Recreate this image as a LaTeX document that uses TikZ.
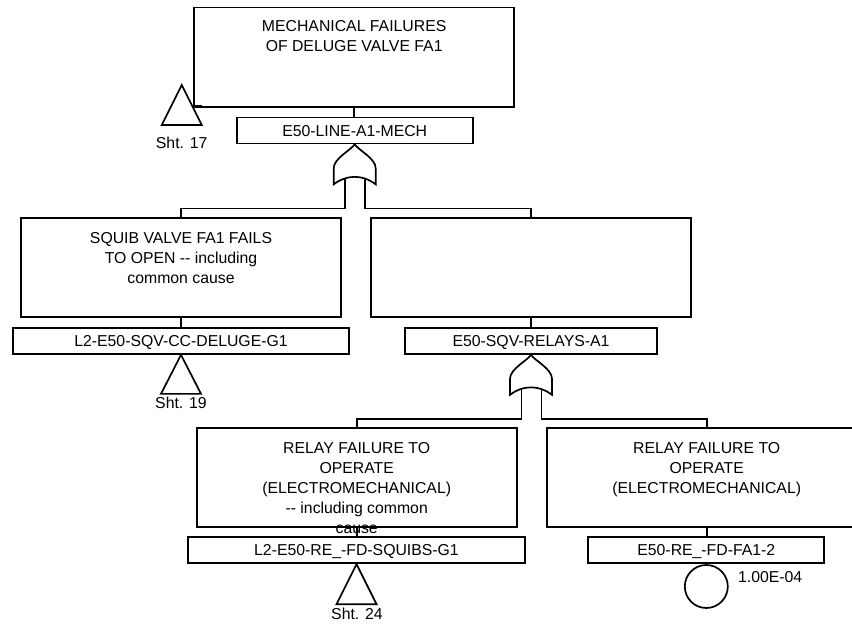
\documentclass[tikz,border=0pt]{standalone}
\usepackage{fontspec}
\newfontfamily\af{Liberation Sans}
\begin{document}
\begin{tikzpicture}[x=1pt,y=-1pt, line width=1.7pt,
  box/.style={draw, minimum width=320pt, minimum height=99.5pt, inner sep=0pt},
  lab/.style={draw, inner sep=0pt, minimum height=26pt, text height=11.3pt, text depth=0pt, font=\af\fontsize{15.8}{20}\selectfont},
  txt/.style={anchor=north, inner sep=0pt, align=center, font=\af\fontsize{15.8}{20}\selectfont},
  sht/.style={inner sep=0pt, text height=11.3pt, text depth=0pt, font=\af\fontsize{15.8}{20}\selectfont},
  orgate/.pic={
    \draw[fill=white] (0,0) .. controls (-4,6) and (-21,14) .. (-21,24) -- (-21,40)
      .. controls (-14,34.5) and (-6,32.5) .. (0,32.5)
      .. controls (6,32.5) and (14,34.5) .. (21,40) -- (21,24)
      .. controls (21,14) and (4,6) .. (0,0) -- cycle;
    \coordinate (-l) at (-9.5,33.5);
    \coordinate (-r) at (10.5,33.5);
    \coordinate (-lb) at (-9.5,64);
    \coordinate (-rb) at (10.5,64);
  }]
\clip (0,0) rectangle (852,626);

% top event
\node[box] (top) at (354.15,57.25) {};
\node[txt] (toptxt) at (354.15,20) {MECHANICAL FAILURES\\OF DELUGE VALVE FA1};
\node[lab, minimum width=236pt] (toplab) at (354.7,130.5) {E50-LINE-A1-MECH};
\draw (top.south) -- (top.south |- toplab.north);

% transfer Sht. 17
\coordinate (t17) at (181.7,85);
\draw (t17) -- ++(20,40) -- ++(-40,0) -- cycle;
\node[sht] (s17) at (181.7,142.7) {Sht. 17};
\coordinate (k1) at (192,106.3);
\coordinate (k2) at (201.5,106.3);
\draw[line width=2.2pt] (k1) -- (k2);

% gate 1
\pic (ga) at (toplab.south) {orgate};

% middle level
\node[box] (sq) at (181,267.5) {};
\node[txt] (sqtxt) at (181,231.7) {SQUIB VALVE FA1 FAILS\\TO OPEN -{}- including\\common cause};
\node[box] (rel) at (531,267.5) {};
\node[lab, minimum width=336pt] (sqlab) at (181,341) {L2-E50-SQV-CC-DELUGE-G1};
\node[lab, minimum width=252pt] (rellab) at (531,341) {E50-SQV-RELAYS-A1};
\draw (ga-l) -- (ga-lb) -| (sq.north);
\draw (ga-r) -- (ga-rb) -| (rel.north);
\draw (sq.south) -- (sqlab.north);
\draw (rel.south) -- (rellab.north);

% transfer Sht. 19
\draw (sqlab.south) -- ++(20,39) -- ++(-40,0) -- cycle;
\node[sht] (s19) at (181,403.3) {Sht. 19};

% gate 2
\pic (gb) at (rellab.south) {orgate};

% bottom level
\node[box, minimum height=98.7pt] (bl) at (356.7,477.35) {};
\node[box, minimum height=98.7pt] (br) at (706.7,477.35) {};
\draw (gb-l) -- (gb-lb) -| (bl.north);
\draw (gb-r) -- (gb-rb) -| (br.north);
\node[txt] (bltxt) at (356.7,441.7) {RELAY FAILURE TO\\OPERATE\\(ELECTROMECHANICAL)\\-{}- including common\\cause};
\node[txt] (brtxt) at (706.7,441.7) {RELAY FAILURE TO\\OPERATE\\(ELECTROMECHANICAL)};
\node[lab, minimum width=337pt] (bllab) at (356.5,550.3) {L2-E50-RE\symbol{95}-FD-SQUIBS-G1};
\node[lab, minimum width=236pt] (brlab) at (706.3,550.3) {E50-RE\symbol{95}-FD-FA1-2};
\draw (bl.south) -- (bl.south |- bllab.north);
\draw (br.south) -- (br.south |- brlab.north);

% transfer Sht. 24
\draw (bllab.south) -- ++(20,40) -- ++(-40,0) -- cycle;
\node[sht] (s24) at (357,614) {Sht. 24};

% basic event
\node[draw, circle, minimum size=43pt, inner sep=0pt, anchor=north] (be) at (brlab.south) {};
\node[sht, anchor=west] (prob) at (737.3,577) {1.00E-04};
\end{tikzpicture}
\end{document}
